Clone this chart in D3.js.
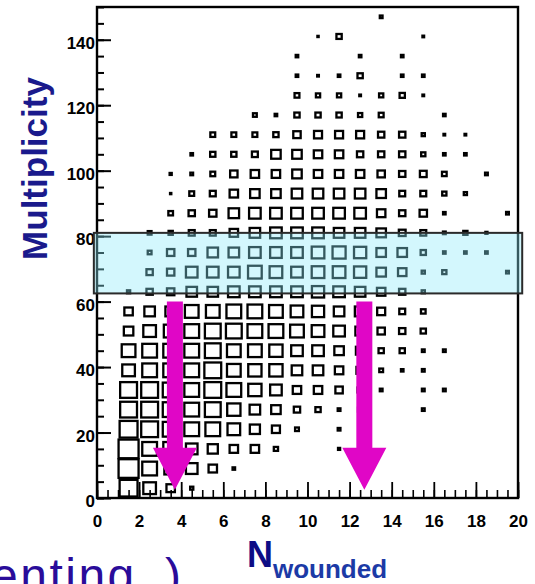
<!DOCTYPE html>
<html><head><meta charset="utf-8">
<script src="https://cdn.jsdelivr.net/npm/d3@7"></script>
<style>body{margin:0;background:#fff;} svg{display:block}</style>
</head><body>
<svg id="chart" width="535" height="584"></svg>
<script>
// ---- data ----
const xDomain = [0, 20];          // N_wounded
const yDomain = [0, 150];         // Multiplicity
const xBinWidth = 1;
const yBinWidth = 6;
const xTickValues = [0, 2, 4, 6, 8, 10, 12, 14, 16, 18, 20];
const yTickValues = [0, 20, 40, 60, 80, 100, 120, 140];
const xMinorStep = 0.5;
const yMinorStep = 5;
// box content per multiplicity bin (row 0 = 0-6), columns = N_wounded bins 0..19
const content = [
 [0,8.5,6,4,1.5,0,0,0,0,0,0,0,0,0,0,0,0,0,0,0],
 [0,9.5,7,6,5.5,4,1.2,0,0,0,0,0,0,0,0,0,0,0,0,0],
 [0,9.5,7,7,5.5,4.8,4,4,2,0,0,1,1,0,0,0,0,0,0,0],
 [0,8.5,8,7.5,7,7,6,4.8,3.8,1.8,0,1.3,1.5,0,0,0,0,0,0,0],
 [0,8,8,7.5,7,7.5,6.3,5,4.5,3,2.5,1.3,2,0,0,1.3,0,0,0,0],
 [0,8,8,7.5,7,8,7,6.3,5.5,4,4,3.5,2.5,1.3,0,1.3,1.3,0,0,0],
 [0,6,7,7,7,8,6.5,6.3,6.3,5,5,4,3.5,1.8,1.2,1.3,0,0,0,0],
 [0,6.5,7,7,7,7.5,6.5,6.5,6.3,5.5,5.5,4.5,4,2.5,2.5,1.3,1.3,0,0,0],
 [0,4.5,6,6.5,7,7.5,7.5,7,7,6.5,6,5.5,4.5,3.5,3,2.5,0,0,0,0],
 [0,4,5,5,6.5,6.5,7,7,6.5,6,5.8,5,5,3.8,2.8,2.2,0,0,0,0],
 [0,1.5,3,3.5,5,5,5.5,5.5,5.5,5.5,5.8,5.5,5,4,3,1.5,0,0,0,0],
 [0,0,3,3.5,5.5,5.5,5.5,6.5,6,5.5,6,6,5.8,4.5,4,1.5,2,0,0,1.3],
 [0,0,1.8,3.5,3.5,5,5,5.5,5.5,5.5,6,6.2,5.8,4.5,4.5,2.5,1.2,1.2,1.2,0],
 [0,0,1.8,2,2.8,2.8,4,5,5.5,5.5,5.5,5,5,4.5,3.2,2.8,1.3,2,1,0],
 [0,0,0,2.2,3,3.5,5,5.5,5.5,5.5,5.5,5.5,5.5,4,3,3.5,1.2,0,0,1.3],
 [0,0,0,0.6,2.3,2.8,4,4.5,4.5,5,5,5,5,4.5,2.8,2.8,2,1.5,0,0],
 [0,0,0,1,1.3,2.3,3.5,4,4,4.5,4,4,4,3.5,3,3.2,2.2,0,1.3,0],
 [0,0,0,0,1.2,2.5,2.5,2.8,4.5,4.5,4,4,3,3,3,2,1.2,1.2,0,0],
 [0,0,0,0,0,2.3,2.3,2.3,2.5,3.5,3.8,3.8,3.8,3,3,1.5,0.8,0.8,0,0],
 [0,0,0,0,0,0,0,1.8,1.2,2.5,2.5,2.5,2,2.3,0,0,1.2,0,0,0],
 [0,0,0,0,0,0,0,0,0,2.3,2,2,0.8,2,2.5,0.8,0,0,0,0],
 [0,0,0,0,0,0,0,0,0,1.2,0.8,1.2,2.5,0,1.2,1.2,0,0,0,0],
 [0,0,0,0,0,0,0,0,0,1.2,0,0,1.2,0,1.2,0,0,0,0,0],
 [0,0,0,0,0,0,0,0,0,0,0.6,2.5,0,0,0,0.8,0,0,0,0],
 [0,0,0,0,0,0,0,0,0,0,0,0,0,1.3,0,0,0,0,0,0]
];
const contentMax = 10;
// selected multiplicity band and projection arrows (data units)
const bandX = [-0.15, 20.2];
const bandY = [62.5, 81];
const arrowX = [3.7, 12.7];
const arrowFrom = 60;
const arrowTo = 2.5;
const yTitle = "Multiplicity";
const xTitleMain = "N";
const xTitleSub = "wounded";
const cutText = "enting";

// ---- drawing ----
const svg = d3.select("#chart");
const x = d3.scaleLinear().domain(xDomain).range([97, 518]);
const y = d3.scaleLinear().domain(yDomain).range([498, 7]);
const side = d3.scaleLinear().domain([0, contentMax]).range([0, 1]);
const cellW = x(xBinWidth) - x(0);
const cellH = y(0) - y(yBinWidth);

const cells = [];
content.forEach((row, j) => row.forEach((v, i) => {
  if (v > 0) cells.push({xc: (i + 0.5) * xBinWidth, yc: (j + 0.5) * yBinWidth, v});
}));

svg.append("g").selectAll("rect").data(cells).join("rect")
  .attr("x", d => x(d.xc) - side(d.v) * cellW / 2)
  .attr("y", d => y(d.yc) - side(d.v) * cellH / 2)
  .attr("width", d => side(d.v) * cellW)
  .attr("height", d => side(d.v) * cellH)
  .attr("fill", "none")
  .attr("stroke", "#000")
  .attr("stroke-width", 2.3);

const tickFont = g => g.selectAll("text")
  .attr("font-family", "Liberation Sans, Arial, sans-serif")
  .attr("font-weight", "bold").attr("font-size", 17).attr("fill", "#000");

// minor ticks
svg.append("g").attr("transform", `translate(${x(0)},0)`)
  .call(d3.axisLeft(y).tickValues(d3.range(yDomain[0], yDomain[1] + 0.01, yMinorStep)).tickSize(-7).tickFormat(""))
  .call(g => g.select(".domain").remove())
  .call(g => g.selectAll("line").attr("stroke-width", 2));
svg.append("g").attr("transform", `translate(0,${y(0)})`)
  .call(d3.axisBottom(x).tickValues(d3.range(xDomain[0], xDomain[1] + 0.01, xMinorStep)).tickSize(-8).tickFormat(""))
  .call(g => g.select(".domain").remove())
  .call(g => g.selectAll("line").attr("stroke-width", 1.6));

// major ticks + labels
svg.append("g").attr("transform", `translate(${x(0)},0)`)
  .call(d3.axisLeft(y).tickValues(yTickValues).tickSize(-14).tickPadding(2))
  .call(g => g.select(".domain").remove())
  .call(g => g.selectAll("line").attr("stroke-width", 2))
  .call(tickFont)
  .call(g => g.selectAll("text").attr("dy", "0.5em"));
svg.append("g").attr("transform", `translate(0,${y(0)})`)
  .call(d3.axisBottom(x).tickValues(xTickValues).tickSize(-16).tickPadding(17))
  .call(g => g.select(".domain").remove())
  .call(g => g.selectAll("line").attr("stroke-width", 1.8))
  .call(tickFont);

// frame
svg.append("rect")
  .attr("x", x(xDomain[0])).attr("y", y(yDomain[1]))
  .attr("width", x(xDomain[1]) - x(xDomain[0]))
  .attr("height", y(yDomain[0]) - y(yDomain[1]))
  .attr("fill", "none").attr("stroke", "#000").attr("stroke-width", 2.4);

// band
svg.append("rect")
  .attr("x", x(bandX[0])).attr("y", y(bandY[1]))
  .attr("width", x(bandX[1]) - x(bandX[0]))
  .attr("height", y(bandY[0]) - y(bandY[1]))
  .attr("fill", "rgb(140,235,250)").attr("fill-opacity", 0.38)
  .attr("stroke", "#2a2a2a").attr("stroke-width", 2);

// arrows
const shaftHalf = 8, headHalf = 22, headLen = 42;
svg.append("g").selectAll("path").data(arrowX).join("path")
  .attr("d", d => {
    const cx = x(d), y0 = y(arrowFrom), y1 = y(arrowTo), yh = y1 - headLen;
    return `M${cx - shaftHalf},${y0}L${cx + shaftHalf},${y0}L${cx + shaftHalf},${yh}L${cx + headHalf},${yh}L${cx},${y1}L${cx - headHalf},${yh}L${cx - shaftHalf},${yh}Z`;
  })
  .attr("fill", "#e006c6");

// titles
svg.append("text")
  .attr("transform", "translate(47,168.5) rotate(-90)")
  .attr("text-anchor", "middle")
  .attr("font-family", "Liberation Sans, Arial, sans-serif")
  .attr("font-weight", "bold")
  .attr("font-size", 35).attr("fill", "#1a1a8c")
  .text(yTitle);

const xt = svg.append("text")
  .attr("x", 247).attr("y", 567)
  .attr("font-family", "Liberation Sans, Arial, sans-serif")
  .attr("font-weight", "bold");
xt.append("tspan").attr("font-size", 36).attr("fill", "#0d0d85").text(xTitleMain);
xt.append("tspan").attr("font-size", 26).attr("fill", "#1c3aa6").attr("dy", 11).text(xTitleSub);

const ct = svg.append("text")
  .attr("x", -9).attr("y", 592)
  .attr("font-family", "Liberation Sans, Arial, sans-serif")
  .attr("font-size", 48).attr("fill", "#2a0c9a");
ct.append("tspan").attr("letter-spacing", 2.5).text(cutText);
ct.append("tspan").attr("x", 165).text(")");
</script>
</body></html>
